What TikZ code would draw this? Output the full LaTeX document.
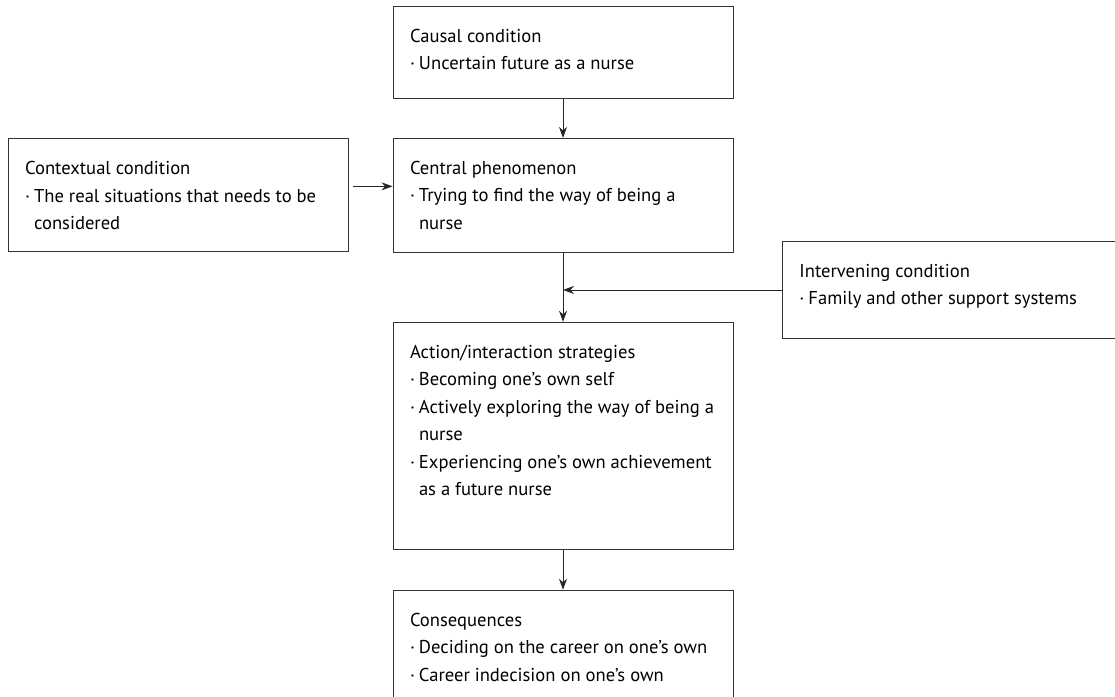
\documentclass[tikz,border=0pt]{standalone}
\usepackage{fontspec}
\setmainfont{PT Sans}
\usepackage{tikz}
\usetikzlibrary{positioning}
\usetikzlibrary{arrows.meta}
\tikzset{box/.style={draw=black!80, line width=0.9pt, inner sep=0pt}}
\tikzset{arr/.style={draw=black!85, line width=0.9pt, -{Stealth[length=11pt,width=8pt]}}}
\newcommand{\boxtext}[2]{\hspace*{17pt}\parbox[c][#1][t]{323pt}{\raggedright\fontsize{18.6}{27.5}\selectfont\rule{0pt}{36pt}#2}}
\newcommand{\itm}{\makebox[9pt][l]{·}}
\newcommand{\ind}{\hspace*{9pt}}

\begin{document}
\begin{tikzpicture}[x=1pt, y=1pt]
\useasboundingbox (0,0) rectangle (1115,-696);
% middle column
\node[box, anchor=north] (causal) at (563,-6) {\boxtext{92pt}{Causal condition\\ \itm Uncertain future as a nurse}};
\node[box, below=39pt of causal] (central) {\boxtext{114pt}{Central phenomenon\\ \itm Trying to find the way of being a\\ \ind nurse}};
\node[box, below=69pt of central] (action) {\boxtext{227pt}{Action/interaction strategies\\ \itm Becoming one’s own self\\ \itm Actively exploring the way of being a\\ \ind nurse\\ \itm Experiencing one’s own achievement\\ \ind as a future nurse}};
\node[box, below=40pt of action] (conseq) {\boxtext{108pt}{Consequences\\ \itm Deciding on the career on one’s own\\ \itm Career indecision on one’s own}};
% side boxes
\node[box, left=44pt of central] (context) {\boxtext{113pt}{Contextual condition\\ \itm The real situations that needs to be\\ \ind considered}};
\node[box, anchor=north west] (interv) at (782,-241) {\boxtext{97pt}{Intervening condition\\ \itm Family and other support systems}};
\coordinate (join) at (interv.west -| central.south);
%
\draw[arr] (causal) -- (central);
\draw[arr, shorten <=4pt] ([yshift=9pt]context.east) -- ([yshift=9pt]central.west);
\draw[arr] (central) -- (action);
\draw[arr] (interv.west) -- (join);
\draw[arr] (action) -- (conseq);
\end{tikzpicture}
\end{document}
